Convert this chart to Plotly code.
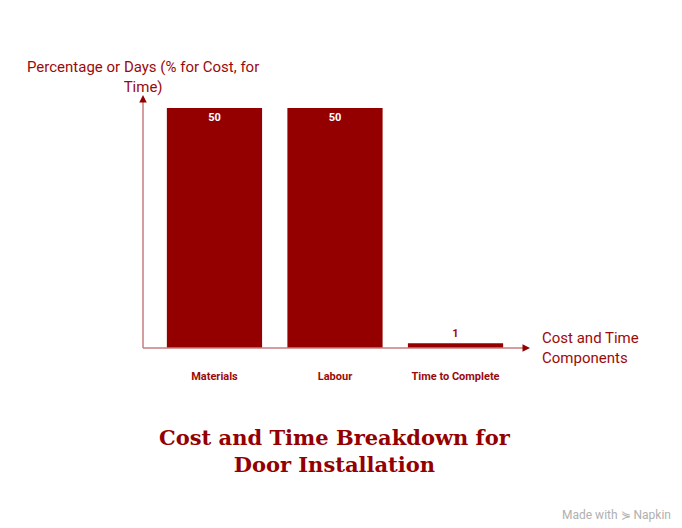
import plotly.graph_objects as go

# Data
components = ["Materials", "Labour", "Time to Complete"]
values = [50, 50, 1]
text_pos = ["inside", "inside", "outside"]

bar_color = "#940000"
dark_red = "#9b0a0a"
axis_color = "#c77c7c"

fig = go.Figure(go.Bar(
    x=components, y=values,
    marker=dict(color=bar_color, line=dict(width=0)),
    width=0.79,
    text=values,
    textposition=text_pos,
    insidetextanchor="end",
    insidetextfont=dict(family="Roboto", size=11, color="white", weight="bold"),
    outsidetextfont=dict(family="Roboto", size=11, color=dark_red, weight="bold"),
    cliponaxis=False,
))

# page body has an 8px margin, so the figure is 8px smaller than the window
fig.update_layout(
    width=674, height=520,
    margin=dict(l=135, r=152, t=87, b=180),
    plot_bgcolor="white", paper_bgcolor="white",
    showlegend=False,
    font=dict(family="Roboto", color=dark_red),
    xaxis=dict(range=[-0.593, 2.618], showgrid=False, zeroline=False, showline=False,
               ticks="outside", ticklen=18, tickcolor="rgba(0,0,0,0)",
               tickfont=dict(family="Roboto", size=11, color=dark_red, weight="bold")),
    yaxis=dict(range=[0, 52.7], showgrid=False, zeroline=False, showline=False,
               showticklabels=False, ticks=""),
)

# axis lines
fig.add_shape(type="line", xref="paper", yref="paper", x0=0, y0=0, x1=0, y1=0.985,
              line=dict(color=axis_color, width=1.5))
fig.add_shape(type="line", xref="paper", yref="paper", x0=0, y0=0, x1=0.99, y1=0,
              line=dict(color=axis_color, width=1.5))
# arrowheads
fig.add_annotation(xref="paper", yref="paper", x=0, y=1, ax=0, ay=8, text="",
                   showarrow=True, arrowhead=2, arrowsize=1, arrowwidth=1.5, arrowcolor=bar_color)
fig.add_annotation(xref="paper", yref="paper", x=1, y=0, ax=-8, ay=0, text="",
                   showarrow=True, arrowhead=2, arrowsize=1, arrowwidth=1.5, arrowcolor=bar_color)

# axis titles
fig.add_annotation(xref="paper", yref="paper", x=0, y=1, yshift=-3, xanchor="center", yanchor="bottom",
                   text="Percentage or Days (% for Cost, for<br>Time)", showarrow=False, align="center",
                   font=dict(family="Roboto", size=15, color=dark_red))
fig.add_annotation(xref="paper", yref="paper", x=1, y=0, xshift=10, yshift=0, xanchor="left", yanchor="middle",
                   text="Cost and Time<br>Components", showarrow=False, align="left",
                   font=dict(family="Roboto", size=15, color=dark_red))

# title
fig.add_annotation(xref="paper", yref="paper", x=0.5, y=0, xanchor="center", yanchor="top",
                   yshift=-75, xshift=-2,
                   text="<b>Cost and Time Breakdown for<br>Door Installation</b>", showarrow=False,
                   font=dict(family="DejaVu Serif", size=21, color=bar_color))

# watermark
fig.add_annotation(xref="paper", yref="paper", x=1.3695, y=0, yshift=-167, xanchor="right", yanchor="middle",
                   text="Made with ⋟ Napkin", showarrow=False,
                   font=dict(family="Roboto", size=12, color="#b0b0b0"))

fig.write_html("out.html")
